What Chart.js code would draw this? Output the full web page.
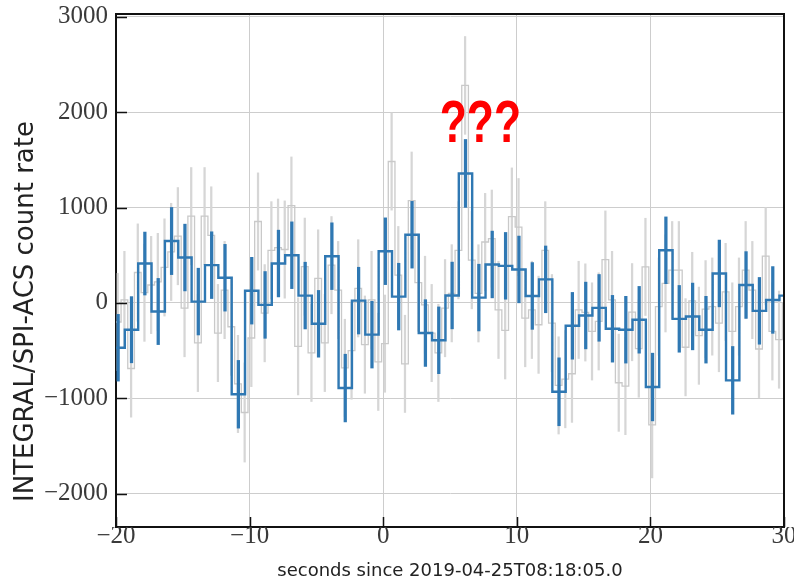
<!DOCTYPE html>
<html>
<head>
<meta charset="utf-8">
<title>INTEGRAL/SPI-ACS</title>
<script src="https://cdn.jsdelivr.net/npm/chart.js@4.4.1/dist/chart.umd.min.js"></script>
<style>
  html, body { margin: 0; padding: 0; background: #fff; }
</style>
</head>
<body>
<canvas id="grafica" width="794" height="583"></canvas>
<script>
// 1 s bins (blue) and 0.5 s bins (grey), seconds since 2019-04-25T08:18:05.0
const xTicks = [-20, -10, 0, 10, 20, 30];
const yTicks = [-2000, -1000, 0, 1000, 2000, 3000];

const binInicio1s = -20.34;
const ancho1s = 1.0;
const tasa1s = [
  -470, -281, 413, -90, 649, 476, 14, 396, 264, -958,
  128, -21, 413, 500, 77, -219, 490, -893, 24, -333,
  542, 66, 715, -316, -392, 78, 1358, 56, 403, 389,
  351, 73, 247, -932, -240, -132, -52, -271, -281, -177,
  -882, 552, -167, -142, -281, 309, -812, 188, -83, 31,
  76
];
const error1s = [
  350, 347, 330, 347, 352, 350, 350, 350, 350, 355,
  350, 350, 350, 350, 350, 350, 350, 355, 350, 350,
  350, 350, 350, 350, 350, 350, 356, 350, 350, 350,
  350, 350, 350, 356, 350, 350, 350, 350, 350, 350,
  355, 350, 350, 350, 350, 350, 355, 350, 350, 350,
  350
];

const binInicio05s = -20.12;
const ancho05s = 0.5;
const tasa05s = [
  -200, 31, -688, 319, 107, 188, 220, 372, 535, 700,
  -55, 910, -420, 910, 708, -316, 135, -250, -850, -1149,
  -368, 854, -108, 552, 580, 560, 1021, -455, 380, -524,
  257, -420, 396, 135, -681, -500, 153, -437, 31, -618,
  -427, 1483, 292, -639, 1073, 212, -20, -316, -524, -55,
  101, 552, 2281, 448, 100, 639, 674, -73, -288, 906,
  795, -160, -73, -229, 552, -212, -865, -800, -743, -73,
  -100, -299, -194, 455, 31, -837, -872, -97, -479, 378,
  -1278, -38, 205, 344, 344, -465, 21, -344, -66, -38,
  -212, 115, -299, -38, 344, 135, -483, 490, -299, -385,
  0
];
const error05s = [
  510, 510, 510, 510, 510, 510, 510, 510, 510, 510,
  510, 510, 510, 510, 510, 510, 510, 510, 510, 520,
  510, 510, 510, 510, 510, 510, 510, 510, 510, 510,
  510, 510, 510, 510, 510, 510, 510, 510, 510, 510,
  510, 510, 510, 510, 510, 510, 510, 510, 510, 510,
  510, 510, 513, 510, 510, 510, 510, 510, 510, 510,
  510, 510, 510, 510, 510, 510, 510, 510, 510, 510,
  510, 510, 510, 510, 510, 510, 510, 510, 510, 510,
  557, 510, 510, 510, 510, 510, 510, 510, 510, 510,
  510, 510, 510, 510, 510, 510, 510, 510, 510, 510,
  510
];

const azul = '#2f78b3';
const grisLinea = '#c9c9c9';
const grisError = '#d6d6d6';
const tituloY = 'INTEGRAL/SPI-ACS count rate';

// histogram as a stepped line: one point per left edge + closing point
function escalones(inicio, ancho, valores) {
  const pts = valores.map((v, i) => ({ x: inicio + i * ancho, y: v }));
  pts.push({ x: inicio + valores.length * ancho, y: valores[valores.length - 1] });
  return pts;
}

// error bars as floating bars centred on each bin
function barrasError(inicio, ancho, valores, errores) {
  return valores.map((v, i) => ({ x: inicio + (i + 0.5) * ancho, y: [v - errores[i], v + errores[i]] }));
}

const menos = v => (v < 0 ? '\u2212' + Math.abs(v) : String(v));

const marcoYTicks = {
  id: 'marcoYTicks',
  afterDraw(chart) {
    const { ctx, chartArea: a, scales: { x, y } } = chart;
    ctx.save();
    ctx.strokeStyle = '#111';
    ctx.lineWidth = 1.5;
    // ticks pointing inwards, left and bottom only
    ctx.beginPath();
    yTicks.forEach(v => {
      const py = Math.round(y.getPixelForValue(v)) + 0.5;
      ctx.moveTo(a.left, py);
      ctx.lineTo(a.left + 11, py);
    });
    xTicks.forEach(v => {
      const px = Math.round(x.getPixelForValue(v)) + 0.5;
      ctx.moveTo(px, a.bottom);
      ctx.lineTo(px, a.bottom - 10);
    });
    ctx.stroke();
    // top and right edges of the frame
    ctx.lineWidth = 2;
    ctx.beginPath();
    ctx.moveTo(a.left, a.top);
    ctx.lineTo(a.right, a.top);
    ctx.lineTo(a.right, a.bottom);
    ctx.stroke();
    ctx.restore();

    // y axis label, sitting a bit low like the original figure
    ctx.save();
    ctx.fillStyle = '#222';
    ctx.font = '26px "DejaVu Sans"';
    ctx.textAlign = 'center';
    ctx.textBaseline = 'middle';
    ctx.translate(26, y.getPixelForValue(-90));
    ctx.rotate(-Math.PI / 2);
    ctx.fillText(tituloY, 0, 0);
    ctx.restore();

    // the question marks over the peak
    ctx.save();
    ctx.fillStyle = '#ff0000';
    ctx.font = 'bold 60px "Liberation Sans"';
    ctx.textAlign = 'center';
    ctx.textBaseline = 'middle';
    ctx.translate(x.getPixelForValue(7.27), y.getPixelForValue(1860));
    ctx.scale(0.74, 1);
    ctx.fillText('???', 0, 0);
    ctx.restore();
  }
};

new Chart(document.getElementById('grafica'), {
  type: 'line',
  data: {
    datasets: [
      {
        type: 'bar',
        data: barrasError(binInicio05s, ancho05s, tasa05s, error05s),
        backgroundColor: grisError,
        borderWidth: 0,
        barThickness: 1.6,
        grouped: false,
        order: 4
      },
      {
        data: escalones(binInicio05s, ancho05s, tasa05s),
        borderColor: grisLinea,
        borderWidth: 1.3,
        stepped: true,
        pointRadius: 0,
        fill: false,
        order: 3
      },
      {
        data: escalones(binInicio1s, ancho1s, tasa1s),
        borderColor: azul,
        borderWidth: 2.4,
        stepped: true,
        pointRadius: 0,
        fill: false,
        order: 2
      },
      {
        type: 'bar',
        data: barrasError(binInicio1s, ancho1s, tasa1s, error1s),
        backgroundColor: azul,
        borderWidth: 0,
        barThickness: 2.6,
        grouped: false,
        order: 1
      }
    ]
  },
  options: {
    responsive: false,
    animation: false,
    layout: { padding: { top: 14, right: 10, left: 0, bottom: 0 } },
    plugins: {
      legend: { display: false },
      tooltip: { enabled: false }
    },
    scales: {
      x: {
        type: 'linear',
        min: xTicks[0],
        max: xTicks[xTicks.length - 1],
        offset: false,
        afterFit: s => { s.height = 56; s.paddingLeft = 0; s.paddingRight = 0; },
        grid: { color: '#cdcdcd', lineWidth: 1, drawTicks: false, offset: false },
        border: { display: true, color: '#111', width: 2 },
        ticks: {
          stepSize: 10,
          includeBounds: false,
          padding: -6,
          maxRotation: 0,
          autoSkip: false,
          color: '#3a3a3a',
          font: { family: '"Liberation Serif"', size: 25 },
          callback: menos
        },
        title: {
          display: true,
          text: 'seconds since 2019-04-25T08:18:05.0',
          color: '#222',
          font: { family: '"DejaVu Sans"', size: 18 },
          padding: { top: 0, bottom: 1 }
        }
      },
      y: {
        type: 'linear',
        min: -2350,
        max: 3030,
        afterBuildTicks: s => { s.ticks = yTicks.map(v => ({ value: v })); },
        afterFit: s => { s.width = 116; s.paddingTop = 0; s.paddingBottom = 0; },
        grid: { color: '#cdcdcd', lineWidth: 1, drawTicks: false, offset: false },
        border: { display: true, color: '#111', width: 2 },
        ticks: {
          includeBounds: false,
          padding: 8,
          autoSkip: false,
          color: '#3a3a3a',
          font: { family: '"Liberation Serif"', size: 25 },
          callback: menos
        },
        title: { display: false }
      }
    }
  },
  plugins: [marcoYTicks]
});
</script>
</body>
</html>
